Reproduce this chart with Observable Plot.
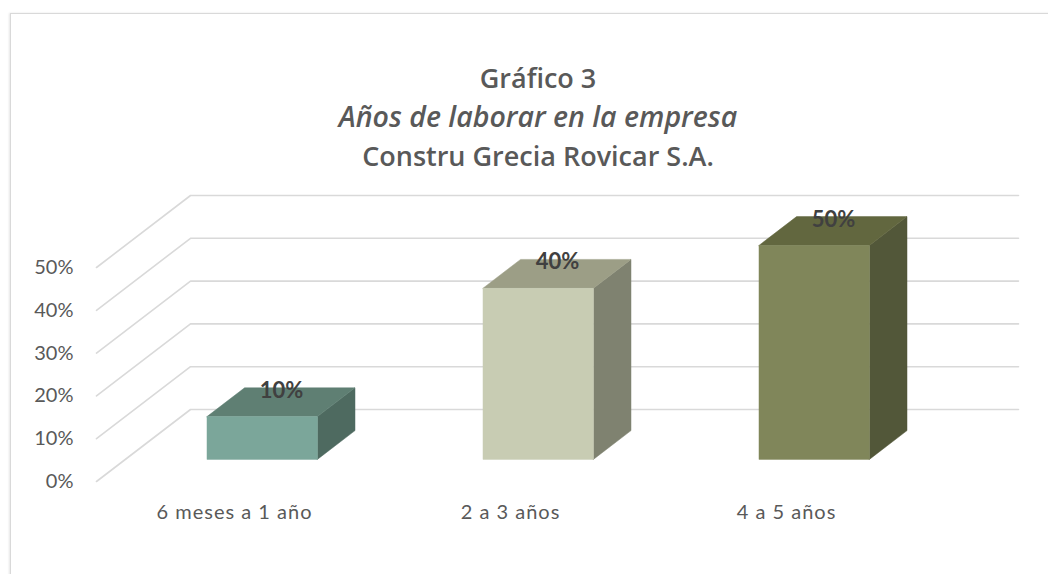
<!DOCTYPE html>
<html><head><meta charset="utf-8">
<script src="https://cdn.jsdelivr.net/npm/d3@7"></script>
<script src="https://cdn.jsdelivr.net/npm/@observablehq/plot@0.6"></script>
<style>
html,body{margin:0;padding:0;background:#fff;overflow:hidden}
#wrap{position:relative;width:1048px;height:574px;overflow:hidden;font-family:Lato, sans-serif}
#frame{position:absolute;left:10px;top:13px;width:1100px;height:700px;border:1px solid #d9d9d9;box-shadow:-1px 0 2px rgba(0,0,0,0.10)}
#chart{position:absolute;left:0;top:0}
#title{position:absolute;left:0;width:1076px;top:58px;text-align:center;color:#595959;font-family:"Open Sans",sans-serif;font-weight:600;font-size:27px;line-height:39px}
#title .it{font-style:italic;font-size:28.5px}
</style></head><body>
<div id="wrap"><div id="frame"></div><div id="chart"></div>
<div id="title"><div>Gráfico 3</div><div class="it">Años de laborar en la empresa</div><div>Constru Grecia Rovicar S.A.</div></div></div>
<script>
const categories = ["6 meses a 1 año", "2 a 3 años", "4 a 5 años"];
const values = [0.10, 0.40, 0.50];
const valueLabels = ["10%", "40%", "50%"];
const yTicks = [0, 0.1, 0.2, 0.3, 0.4, 0.5];
const yTickLabels = ["0%", "10%", "20%", "30%", "40%", "50%"];

const frontColors = ["#7ba69a", "#c8ccb3", "#80865a"];
const topColors   = ["#5f7f73", "#9c9e86", "#62673f"];
const sideColors  = ["#4e6a60", "#7f8270", "#525739"];

// 3D depth vector (in data units of the x and y scales)
const DX = 94 / 276, DY = 72 / 428;
const halfW = 0.2, d0 = 0.3, d1 = 0.7;
const xMin = -0.5, xMax = categories.length - 0.5;

const grid = yTicks.flatMap(t => [
  {t, x: xMin, y: t},
  {t, x: xMin + DX, y: t + DY},
  {t, x: xMax + DX, y: t + DY}
]);

const marks = [
  Plot.line(grid, {x: "x", y: "y", z: "t", stroke: "#d9d9d9", strokeWidth: 1.6})
];

values.forEach((v, i) => {
  const xl0 = i - halfW + d0 * DX, xr0 = i + halfW + d0 * DX;
  const xl1 = i - halfW + d1 * DX, xr1 = i + halfW + d1 * DX;
  marks.push(Plot.areaY([{x: xr0, y1: d0 * DY, y2: v + d0 * DY}, {x: xr1, y1: d1 * DY, y2: v + d1 * DY}],
    {x: "x", y1: "y1", y2: "y2", fill: sideColors[i], stroke: sideColors[i], strokeWidth: 0.5}));
  marks.push(Plot.areaX([{y: v + d0 * DY, x1: xl0, x2: xr0}, {y: v + d1 * DY, x1: xl1, x2: xr1}],
    {y: "y", x1: "x1", x2: "x2", fill: topColors[i], stroke: topColors[i], strokeWidth: 0.5}));
  marks.push(Plot.rect([v], {x1: () => xl0, x2: () => xr0, y1: () => d0 * DY, y2: d => d + d0 * DY,
    fill: frontColors[i], stroke: frontColors[i], strokeWidth: 0.5}));
});

marks.push(Plot.text(values, {x: (d, i) => i + 0.5 * DX, y: d => d + 0.5 * DY, text: (d, i) => valueLabels[i],
  dy: -12, fontSize: 22, fontWeight: "bold", fill: "#404040", fontFamily: "Lato"}));

marks.push(Plot.text(yTicks, {x: xMin, y: d => d, text: (d, i) => yTickLabels[i], textAnchor: "end",
  dx: -23, fontSize: 20, fill: "#595959", fontFamily: "Lato"}));

marks.push(Plot.text(categories, {x: (d, i) => i, y: 0, text: d => d, dy: 31,
  fontSize: 20, fill: "#595959", fontFamily: "Lato"}));

const chart = Plot.plot({
  width: 1048, height: 574,
  marginLeft: 96, marginRight: 124, marginTop: 267, marginBottom: 93,
  x: {domain: [xMin, xMax], axis: null},
  y: {domain: [0, 0.5], axis: null},
  style: {background: "transparent", overflow: "visible"},
  marks
});
chart.querySelectorAll("text").forEach(t => {
  if (categories.includes(t.textContent)) t.setAttribute("letter-spacing", "1");
});
document.getElementById("chart").appendChild(chart);
</script>
</body></html>
